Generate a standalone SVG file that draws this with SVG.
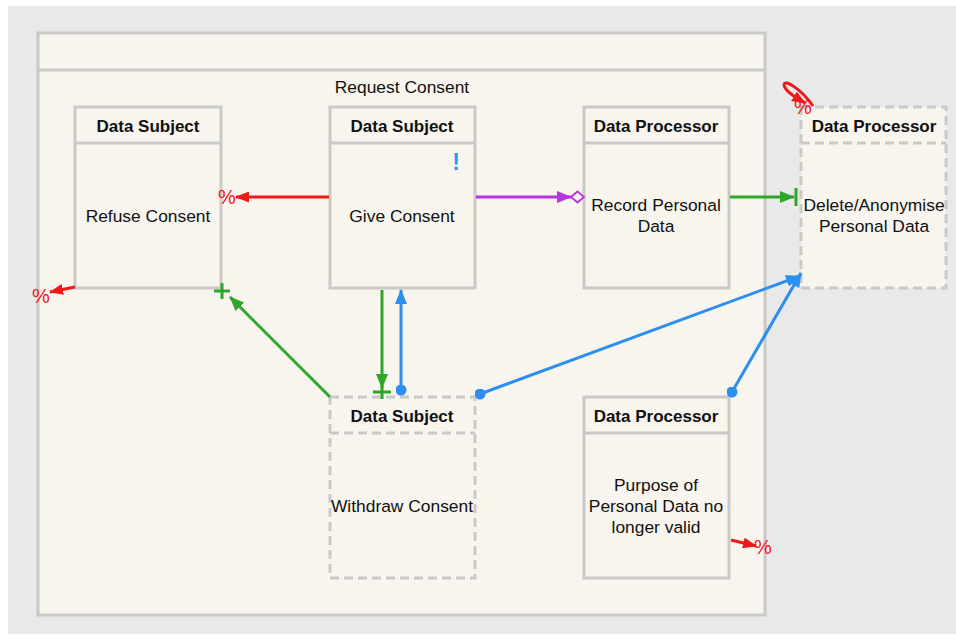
<svg xmlns="http://www.w3.org/2000/svg" width="956" height="639" viewBox="0 0 956 639">
<defs>
<style>
.node{fill:#f7f5ee;stroke:#c9c9c6;stroke-width:3}
.dash{fill:#f7f5ee;stroke:#c9c9c6;stroke-width:3;stroke-dasharray:9 5}
.div{stroke:#c9c9c6;stroke-width:3}
.divd{stroke:#c9c9c6;stroke-width:3;stroke-dasharray:9 5}
.t{font-family:"Liberation Sans",Arial,sans-serif;font-size:17.4px;fill:#111;text-anchor:middle}
.h{font-family:"Liberation Sans",Arial,sans-serif;font-size:17px;font-weight:bold;fill:#111;text-anchor:middle}
.pc{font-family:"Liberation Sans",Arial,sans-serif;font-size:20px;fill:#f01818;text-anchor:middle}
.red{stroke:#f01818;stroke-width:3;fill:none}
.grn{stroke:#2ea62a;stroke-width:3;fill:none}
.blu{stroke:#2b8ef0;stroke-width:3;fill:none}
.pur{stroke:#b735e0;stroke-width:3;fill:none}
</style>
<marker id="ar" viewBox="0 0 14 11" refX="13" refY="5.5" markerWidth="14" markerHeight="11" markerUnits="userSpaceOnUse" orient="auto"><path d="M0,0 L14,5.5 L0,11 Z" fill="#f01818"/></marker>
<marker id="ag" viewBox="0 0 15 12" refX="14" refY="6" markerWidth="15" markerHeight="12" markerUnits="userSpaceOnUse" orient="auto"><path d="M0,0 L15,6 L0,12 Z" fill="#2ea62a"/></marker>
<marker id="ab" viewBox="0 0 15 12" refX="14" refY="6" markerWidth="15" markerHeight="12" markerUnits="userSpaceOnUse" orient="auto"><path d="M0,0 L15,6 L0,12 Z" fill="#2b8ef0"/></marker>
<marker id="ap" viewBox="0 0 15 12" refX="14" refY="6" markerWidth="15" markerHeight="12" markerUnits="userSpaceOnUse" orient="auto"><path d="M0,0 L15,6 L0,12 Z" fill="#b735e0"/></marker>
<marker id="db" viewBox="0 0 10 10" refX="5" refY="5" markerWidth="11" markerHeight="11" markerUnits="userSpaceOnUse"><circle cx="5" cy="5" r="5" fill="#2b8ef0"/></marker>
</defs>
<rect x="0" y="0" width="956" height="639" fill="#ffffff"/>
<rect x="8" y="6" width="948" height="628" fill="#e9e9e9"/>

<g id="container">
<rect x="38" y="33" width="727" height="582" class="node"/>
<line x1="38" y1="70" x2="765" y2="70" class="div"/>
<text x="402" y="93" class="t">Request Consent</text>
</g>

<g id="refuse">
<rect x="75" y="107" width="146" height="181" class="node"/>
<line x1="75" y1="143" x2="221" y2="143" class="div"/>
<text x="148" y="132" class="h">Data Subject</text>
<text x="148" y="222" class="t">Refuse Consent</text>
</g>

<g id="give">
<rect x="330" y="107" width="145" height="181" class="node"/>
<line x1="330" y1="143" x2="475" y2="143" class="div"/>
<text x="402" y="132" class="h">Data Subject</text>
<text x="402" y="222" class="t">Give Consent</text>
<text x="456" y="170" font-family="Liberation Sans,Arial,sans-serif" font-size="23" font-weight="bold" fill="#2b9af0" text-anchor="middle">!</text>
</g>

<g id="record">
<rect x="584" y="107" width="145" height="181" class="node"/>
<line x1="584" y1="143" x2="729" y2="143" class="div"/>
<text x="656" y="132" class="h">Data Processor</text>
<text x="656" y="211" class="t">Record Personal</text>
<text x="656" y="232" class="t">Data</text>
</g>

<g id="delete">
<rect x="801" y="107" width="145" height="181" class="dash"/>
<line x1="801" y1="143" x2="946" y2="143" class="divd"/>
<text x="874" y="132" class="h">Data Processor</text>
<text x="874" y="211" class="t">Delete/Anonymise</text>
<text x="874" y="232" class="t">Personal Data</text>
</g>

<g id="withdraw">
<rect x="330" y="397" width="145" height="181" class="dash"/>
<line x1="330" y1="433" x2="475" y2="433" class="divd"/>
<text x="402" y="422" class="h">Data Subject</text>
<text x="402" y="512" class="t">Withdraw Consent</text>
</g>

<g id="purpose">
<rect x="584" y="397" width="145" height="181" class="node"/>
<line x1="584" y1="433" x2="729" y2="433" class="div"/>
<text x="656" y="422" class="h">Data Processor</text>
<text x="656" y="491" class="t">Purpose of</text>
<text x="656" y="512" class="t">Personal Data no</text>
<text x="656" y="533" class="t">longer valid</text>
</g>

<g id="connectors">
<line x1="329" y1="197" x2="236" y2="197" class="red" marker-end="url(#ar)"/>
<text x="227" y="204" class="pc">%</text>
<line x1="75" y1="287" x2="50" y2="292" class="red" marker-end="url(#ar)"/>
<text x="41" y="303" class="pc">%</text>
<line x1="731" y1="540" x2="756" y2="546" class="red" marker-end="url(#ar)"/>
<text x="763" y="554" class="pc">%</text>
<path d="M813,106 C802,90 784,78 784,85 C785,91 795,97 805,103" class="red" marker-end="url(#ar)"/>
<text x="803" y="114" class="pc" font-size="16">%</text>
<line x1="476" y1="197" x2="571" y2="197" class="pur" marker-end="url(#ap)"/>
<path d="M571,197 L577.5,191.5 L584,197 L577.5,202.5 Z" fill="#f7f5ee" stroke="#b735e0" stroke-width="1.8"/>
<line x1="730" y1="197" x2="794" y2="197" class="grn" marker-end="url(#ag)"/>
<line x1="796" y1="188" x2="796" y2="206" class="grn"/>
<line x1="382" y1="290" x2="382" y2="388" class="grn" marker-end="url(#ag)"/>
<line x1="373" y1="392" x2="391" y2="392" class="grn"/>
<line x1="382" y1="386" x2="382" y2="399" class="grn"/>
<line x1="401" y1="390" x2="401" y2="290" class="blu" marker-start="url(#db)" marker-end="url(#ab)"/>
<line x1="330" y1="397" x2="230" y2="297" class="grn" marker-end="url(#ag)"/>
<line x1="214" y1="291" x2="230" y2="291" class="grn"/>
<line x1="222" y1="283" x2="222" y2="299" class="grn"/>
<line x1="480" y1="394" x2="800" y2="276" class="blu" marker-start="url(#db)" marker-end="url(#ab)"/>
<line x1="732" y1="392" x2="801" y2="273" class="blu" marker-start="url(#db)" marker-end="url(#ab)"/>
</g>
</svg>
